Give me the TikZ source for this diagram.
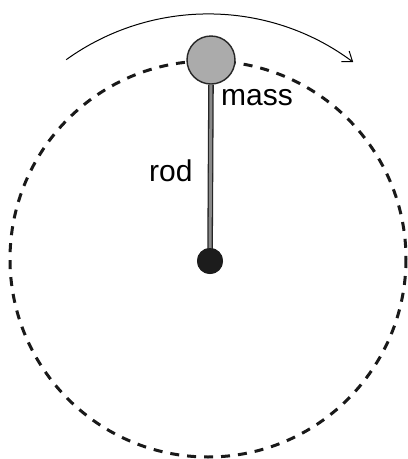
\documentclass[tikz,border=0pt]{standalone}
\usepackage{fontspec}
\setmainfont{Liberation Sans}
\usetikzlibrary{arrows.meta}
\definecolor{massgray}{HTML}{ABABAB}
\definecolor{pivotblack}{HTML}{1C1C1C}
\begin{document}
\begin{tikzpicture}[x=1pt,y=-1pt,
  orbit/.style={line width=3pt, dash pattern=on 9pt off 8pt, black!90},
  massbox/.style={circle, draw=black!85, line width=1.4pt, fill=massgray, minimum size=48pt, inner sep=0pt},
  pivotbox/.style={circle, fill=pivotblack, minimum size=26pt, inner sep=0pt},
  rodline/.style={double=massgray!80!black, double distance=3pt, line width=1.3pt, draw=black!85},
  lab/.style={font=\fontsize{30}{32}\selectfont, inner sep=0pt, anchor=base west},
  motion/.style={line width=1pt, -{Straight Barb[length=9pt,width=13pt]}}
]
\useasboundingbox (0,0) rectangle (408,459);
\fill[white] (0,0) rectangle (408,459);
\draw[orbit] (208,259) circle[radius=198];
\node[pivotbox] (pivot) at (210,261) {};
\node[massbox] (mass) at (211,60) {};
\draw[rodline] (pivot.center) -- (mass.south);
\node[pivotbox] at (210,261) {};
\node[lab] (masslabel) at (221,105) {mass};
\node[lab] (rodlabel) at (149,181) {rod};
\coordinate (arccenter) at (208,257);
\draw[motion] ([shift={(-125.7:243)}]arccenter) arc[start angle=-125.7, end angle=-53.3, radius=243];
\end{tikzpicture}
\end{document}
